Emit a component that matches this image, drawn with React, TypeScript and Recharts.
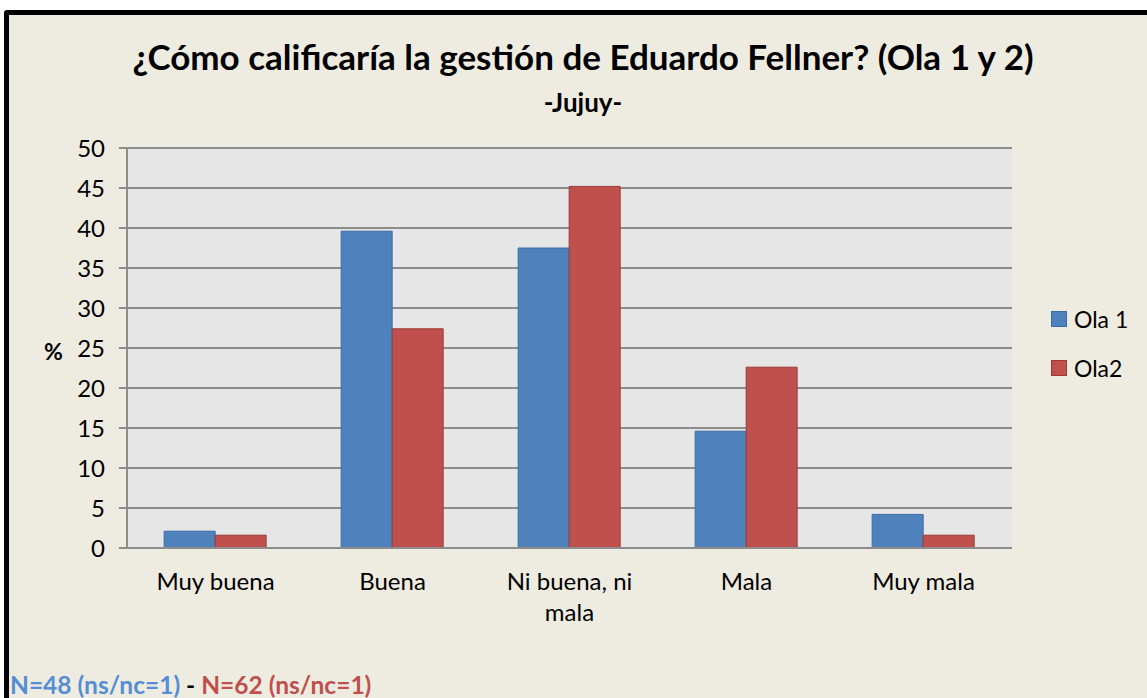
import React from 'react';
import { BarChart, Bar, XAxis, YAxis, CartesianGrid, Legend } from 'recharts';

const CATEGORIES = ['Muy buena', 'Buena', 'Ni buena, ni mala', 'Mala', 'Muy mala'];
const OLA1 = [2.1, 39.6, 37.5, 14.6, 4.2];
const OLA2 = [1.6, 27.4, 45.2, 22.6, 1.6];
const Y_TICKS = [0, 5, 10, 15, 20, 25, 30, 35, 40, 45, 50];

const BLUE = '#4F81BD';
const RED = '#C0504D';
const FONT = 'Lato, "Open Sans", sans-serif';

const data = CATEGORIES.map((name, i) => ({ name, ola1: OLA1[i], ola2: OLA2[i] }));

// greedy wrap, ~12 chars per line
const wrap = (s: string) => {
  const lines: string[] = [];
  let cur = '';
  s.split(' ').forEach((w) => {
    const next = cur ? cur + ' ' + w : w;
    if (next.length > 12 && cur) {
      lines.push(cur);
      cur = w;
    } else cur = next;
  });
  if (cur) lines.push(cur);
  return lines;
};

const CategoryTick = (props: any) => {
  const { x, y, payload } = props;
  return (
    <text x={x} y={y} textAnchor="middle" style={{ fontSize: 24, fontFamily: FONT, fill: '#000' }}>
      {wrap(payload.value).map((l, i) => (
        <tspan key={i} x={x} dy={i === 0 ? 34 : 31}>{l}</tspan>
      ))}
    </text>
  );
};

const LegendBox = () => (
  <div style={{ fontFamily: FONT, fontSize: 23, color: '#000' }}>
    {[{ label: 'Ola 1', c: BLUE, s: '#3A6CA6' }, { label: 'Ola2', c: RED, s: '#9B3B38' }].map((it) => (
      <div key={it.label} style={{ display: 'flex', alignItems: 'center', height: 49 }}>
        <span style={{ width: 14, height: 14, background: it.c, border: `1px solid ${it.s}`, marginRight: 7 }} />
        {it.label}
      </div>
    ))}
  </div>
);

export default function App() {
  return (
    <div style={{ position: 'fixed', left: 0, top: 0, width: 1147, height: 698, overflow: 'hidden', background: '#fff' }}>
      <div style={{ position: 'absolute', left: 4, top: 10, width: 1160, height: 710, border: '5px solid #000', borderRadius: 3, background: '#EEECE1' }} />
      <div style={{ position: 'absolute', left: 0, top: 35, width: 1166, textAlign: 'center', fontFamily: FONT, fontWeight: 700, fontSize: 35, color: '#000', whiteSpace: 'nowrap' }}>
        ¿Cómo calificaría la gestión de Eduardo Fellner? (Ola 1 y 2)
      </div>
      <div style={{ position: 'absolute', left: 0, top: 86, width: 1166, textAlign: 'center', fontFamily: FONT, fontWeight: 700, fontSize: 26, color: '#000' }}>
        -Jujuy-
      </div>
      <div style={{ position: 'absolute', left: 44, top: 337, fontFamily: FONT, fontWeight: 700, fontSize: 23, color: '#000' }}>%</div>
      <div style={{ position: 'absolute', left: 10, top: 670, fontFamily: FONT, fontWeight: 700, fontSize: 24.5, whiteSpace: 'nowrap' }}>
        <span style={{ color: '#558ED5' }}>N=48 (ns/nc=1)</span>
        <span style={{ color: '#000' }}> - </span>
        <span style={{ color: RED }}>N=62 (ns/nc=1)</span>
      </div>
      <div style={{ position: 'absolute', left: 0, top: 0 }}>
        <BarChart width={1147} height={698} data={data} barCategoryGap="21%" barGap={0}
          margin={{ top: 148, right: 135, bottom: 0, left: 0 }}>
          <CartesianGrid vertical={false} stroke="#8C8C8C" strokeWidth={2} fill="#E6E6E6" />
          <YAxis width={127} domain={[0, 50]} ticks={Y_TICKS} interval={0} tickSize={8} tickMargin={14}
            axisLine={{ stroke: '#8C8C8C', strokeWidth: 2 }} tickLine={{ stroke: '#8C8C8C', strokeWidth: 2 }}
            tick={{ fontSize: 24, fontFamily: FONT, fill: '#000' }} />
          <XAxis dataKey="name" height={150} interval={0} tickLine={false}
            axisLine={{ stroke: '#8C8C8C', strokeWidth: 2 }} tick={<CategoryTick />} />
          <Legend layout="vertical" align="center" verticalAlign="middle" content={<LegendBox />}
            wrapperStyle={{ position: 'absolute', left: 1051, top: 294, width: 96 }} />
          <Bar dataKey="ola1" name="Ola 1" fill={BLUE} stroke="#3A6CA6" strokeWidth={1} isAnimationActive={false} />
          <Bar dataKey="ola2" name="Ola2" fill={RED} stroke="#9B3B38" strokeWidth={1} isAnimationActive={false} />
        </BarChart>
      </div>
    </div>
  );
}
